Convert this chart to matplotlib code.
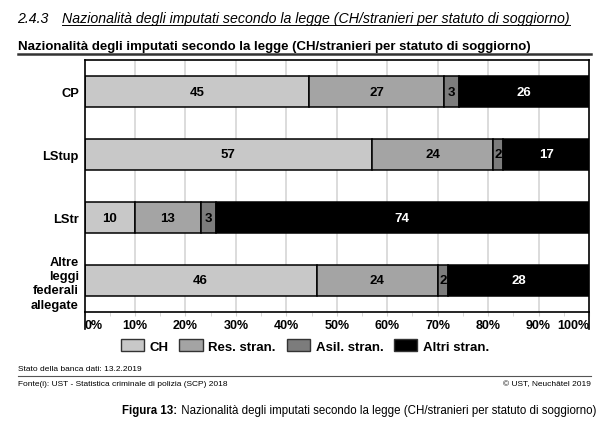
import matplotlib
matplotlib.use("Agg")
import matplotlib.pyplot as plt
from matplotlib.patches import Patch
from matplotlib.lines import Line2D
import numpy as np

plt.rcParams['font.family'] = ['Liberation Sans', 'DejaVu Sans']

categories = ["CP", "LStup", "LStr", "Altre\nleggi\nfederali\nallegate"]
series_names = ["CH", "Res. stran.", "Asil. stran.", "Altri stran."]
ch = [45, 57, 10, 46]
res = [27, 24, 13, 24]
asil = [3, 2, 3, 2]
altri = [26, 17, 74, 28]
tick_labels = ["0%", "10%", "20%", "30%", "40%", "50%", "60%", "70%", "80%", "90%", "100%"]

colors = ["#c8c8c8", "#a4a4a4", "#7c7c7c", "#000000"]
text_colors = ["black", "black", "black", "white"]

W, H = 610, 431
fig = plt.figure(figsize=(W / 100, H / 100), dpi=100)
renderer = fig.canvas.get_renderer()

def fx(px):
    return px / W

def fy(py):
    return 1 - py / H

ax = fig.add_axes([fx(84.5), fy(313), fx(589) - fx(84.5), fy(61) - fy(313)])

data = np.array([ch, res, asil, altri], dtype=float)
totals = data.sum(axis=0)
norm = data / totals * 100
y = np.arange(len(categories))

ax.set_xlim(0, 100)
ax.set_ylim(len(categories) - 0.5, -0.5)
for xv in range(10, 100, 10):
    ax.axvline(xv, color="#dcdcdc", lw=1.4, zorder=0)

left = np.zeros(len(categories))
for i in range(4):
    ax.barh(y, norm[i], left=left, height=0.5, color=colors[i],
            edgecolor="black", linewidth=1.1, zorder=2)
    for j in range(len(categories)):
        ax.text(left[j] + norm[i][j] / 2, y[j], str(int(data[i][j])),
                ha="center", va="center", fontsize=9.5, fontweight="bold",
                color=text_colors[i], zorder=3)
    left += norm[i]

ax.set_yticks(y)
ax.set_yticklabels(categories, fontsize=9.3, fontweight="bold", linespacing=1.25)
ax.tick_params(axis="y", length=0, pad=4)
ax.set_xticks(np.arange(0, 101, 10))
ax.set_xticklabels(tick_labels, fontsize=9, fontweight="bold")
ax.set_xticks(np.arange(5, 100, 10), minor=True)
ax.tick_params(axis="x", which="major", length=3, color="#d0d0d0", pad=2)
ax.tick_params(axis="x", which="minor", length=3, color="#d0d0d0")
labs = ax.get_xticklabels()
labs[0].set_ha("left")
labs[-1].set_ha("right")
for sp in ax.spines.values():
    sp.set_linewidth(1.2)
    sp.set_color("black")

# extended left/right spines through tick-label area
for xa in (0, 1):
    ax.add_line(Line2D([xa, xa], [0, -17 / 252], transform=ax.transAxes,
                       color="black", lw=1.2, clip_on=False))

handles = [Patch(facecolor=c, edgecolor="#333333", linewidth=1) for c in colors]
fig.legend(handles, series_names, loc="center", bbox_to_anchor=(fx(305), fy(347)),
           ncol=4, frameon=False, handlelength=1.75, handleheight=1.0,
           columnspacing=0.8, handletextpad=0.45,
           prop={"weight": "bold", "size": 9.5})

fig.text(fx(17), fy(19), "2.4.3", fontsize=10.2, style="italic", va="center")
hd = fig.text(fx(62), fy(19), "Nazionalità degli imputati secondo la legge (CH/stranieri per statuto di soggiorno)",
              fontsize=10.2, style="italic", va="center")
hb = hd.get_window_extent(renderer=renderer)
fig.add_artist(Line2D([fx(62), hb.x1 / fig.bbox.width], [fy(25.5), fy(25.5)], color="black", lw=0.7))

fig.text(fx(18), fy(47), "Nazionalità degli imputati secondo la legge (CH/stranieri per statuto di soggiorno)",
         fontsize=9.5, fontweight="bold", va="center")
fig.add_artist(Line2D([fx(18), fx(591)], [fy(55), fy(55)], color="#333333", lw=1.8))

fig.text(fx(18), fy(370), "Stato della banca dati: 13.2.2019", fontsize=6, va="center")
fig.add_artist(Line2D([fx(18), fx(591)], [fy(377), fy(377)], color="#555555", lw=0.8))
fig.text(fx(18), fy(385), "Fonte(i): UST - Statistica criminale di polizia (SCP) 2018", fontsize=6, va="center")
fig.text(fx(591), fy(385), "© UST, Neuchâtel 2019", fontsize=6, va="center", ha="right")

cap = fig.text(fx(596), fy(411), " Nazionalità degli imputati secondo la legge (CH/stranieri per statuto di soggiorno)",
               fontsize=8.3, va="center", ha="right")
bb = cap.get_window_extent(renderer=renderer)
fig.text(bb.x0 / fig.bbox.width, fy(411), "Figura 13:", fontsize=8.3, fontweight="bold",
         va="center", ha="right")

fig.savefig("out.png", dpi=100)
